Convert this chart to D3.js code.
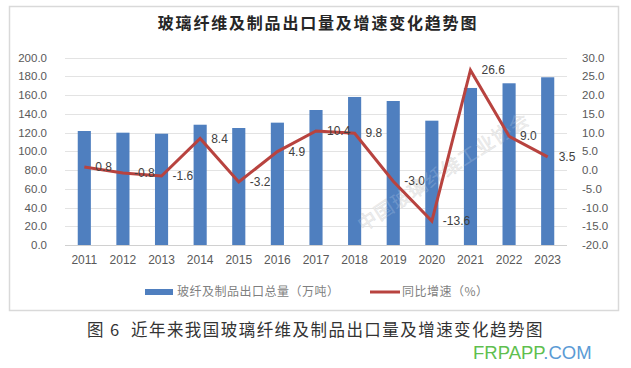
<!DOCTYPE html>
<html>
<head>
<meta charset="utf-8">
<script src="https://cdn.jsdelivr.net/npm/d3@7"></script>
<style>
	body { margin: 0; background: #fff; }
	svg { display: block; }
</style>
</head>
<body>
<div id="chart"></div>
<script>
// --- data ---
var years = ["2011", "2012", "2013", "2014", "2015", "2016", "2017", "2018", "2019", "2020", "2021", "2022", "2023"];
var exportVolume = [121.6, 119.8, 118.7, 128.3, 124.8, 130.5, 144.0, 157.9, 153.6, 132.6, 167.5, 172.5, 178.9];
var growthRate = [0.8, -0.8, -1.6, 8.4, -3.2, 4.9, 10.4, 9.8, -3.0, -13.6, 26.6, 9.0, 3.5];
var leftTicks = [0, 20, 40, 60, 80, 100, 120, 140, 160, 180, 200];
var rightTicks = [-20, -15, -10, -5, 0, 5, 10, 15, 20, 25, 30];
var barName = "玻纤及制品出口总量（万吨）";
var lineName = "同比增速（%）";
var title = "玻璃纤维及制品出口量及增速变化趋势图";
var caption = "图 6  近年来我国玻璃纤维及制品出口量及增速变化趋势图";

var width = 631, height = 368;
var plot = { left: 65, right: 567, top: 57.5, bottom: 245 };
var numFont = "'Liberation Sans', Arial, sans-serif";
var cjkFont = "'Noto Sans CJK SC', sans-serif";
var barColor = "#4f7fbf", lineColor = "#b8433f", textGray = "#595959";

var svg = d3.select("#chart").append("svg")
	.attr("width", width)
	.attr("height", height);

// outer chart frame
svg.append("rect")
	.attr("x", 9.5).attr("y", 6.5)
	.attr("width", 609).attr("height", 304)
	.attr("fill", "#fff")
	.attr("stroke", "#d9d9d9")
	.attr("stroke-width", 1.5);

// --- scales ---
var x = d3.scaleBand().domain(years).range([plot.left, plot.right]).padding(0);
var yLeft = d3.scaleLinear().domain([0, 200]).range([plot.bottom, plot.top]);
var yRight = d3.scaleLinear().domain([-20, 30]).range([plot.bottom, plot.top]);
var barW = x.bandwidth() * 0.34;
function cx(d) { return x(d) + x.bandwidth() / 2; }

// --- gridlines ---
svg.append("g").selectAll("line")
	.data(leftTicks)
	.enter().append("line")
	.attr("x1", plot.left).attr("x2", plot.right)
	.attr("y1", function (d) { return Math.round(yLeft(d)) + 0.5; })
	.attr("y2", function (d) { return Math.round(yLeft(d)) + 0.5; })
	.attr("stroke", function (d) { return d === 0 ? "#d0d0d0" : "#e3e3e3"; })
	.attr("stroke-width", 1);

// --- axes (labels only, Excel style) ---
var leftAxis = svg.append("g")
	.attr("transform", "translate(" + (plot.left - 15) + ",0)")
	.call(d3.axisLeft(yLeft).tickValues(leftTicks).tickSize(0).tickFormat(d3.format(".1f")));
var rightAxis = svg.append("g")
	.attr("transform", "translate(" + (plot.right + 12) + ",0)")
	.call(d3.axisRight(yRight).tickValues(rightTicks).tickSize(0).tickFormat(d3.format(".1f")));
var bottomAxis = svg.append("g")
	.attr("transform", "translate(0," + plot.bottom + ")")
	.call(d3.axisBottom(x).tickSize(0).tickPadding(10));

[leftAxis, rightAxis, bottomAxis].forEach(function (ax) {
	ax.select(".domain").remove();
	ax.selectAll("text")
		.attr("fill", textGray)
		.style("font-family", numFont)
		.style("font-size", "11.5px");
});
// minus signs in Excel are plain hyphens
rightAxis.selectAll("text").text(function (d) { return d3.format(".1f")(d).replace("−", "-"); });
bottomAxis.selectAll("text").style("font-size", "12px");

// --- watermark behind marks ---
svg.append("text")
	.attr("transform", "translate(363,232) rotate(-33)")
	.attr("fill", "#ececec")
	.attr("stroke", "#dadada")
	.attr("stroke-width", 0.4)
	.style("font-family", cjkFont)
	.style("font-size", "19px")
	.style("letter-spacing", "1px")
	.text("中国玻璃纤维工业协会");

// --- bars ---
svg.append("g").selectAll("rect")
	.data(exportVolume)
	.enter().append("rect")
	.attr("x", function (d, i) { return cx(years[i]) - barW / 2; })
	.attr("y", function (d) { return yLeft(d); })
	.attr("width", barW)
	.attr("height", function (d) { return plot.bottom - yLeft(d); })
	.attr("fill", barColor);

// watermark over bars, faint
svg.append("text")
	.attr("transform", "translate(363,232) rotate(-33)")
	.attr("fill", "#ffffff")
	.attr("fill-opacity", 0.18)
	.style("font-family", cjkFont)
	.style("font-size", "19px")
	.style("letter-spacing", "1px")
	.text("中国玻璃纤维工业协会");

// --- growth line ---
var line = d3.line()
	.x(function (d, i) { return cx(years[i]); })
	.y(function (d) { return yRight(d); });

svg.append("path")
	.datum(growthRate)
	.attr("d", line)
	.attr("fill", "none")
	.attr("stroke", lineColor)
	.attr("stroke-width", 3)
	.attr("stroke-linejoin", "miter");

// data labels to the right of each point
svg.append("g").selectAll("text")
	.data(growthRate)
	.enter().append("text")
	.attr("x", function (d, i) { return cx(years[i]) + 11; })
	.attr("y", function (d) { return yRight(d); })
	.attr("dy", "0.35em")
	.attr("fill", "#404040")
	.style("font-family", numFont)
	.style("font-size", "12px")
	.text(function (d) { return d3.format(".1f")(d).replace("−", "-"); });

// --- title ---
svg.append("text")
	.attr("x", 318).attr("y", 29)
	.attr("text-anchor", "middle")
	.attr("fill", "#262626")
	.style("font-family", cjkFont)
	.style("font-weight", "bold")
	.style("font-size", "16px")
	.style("letter-spacing", "1.8px")
	.text(title);

// --- legend ---
var legend = svg.append("g").attr("transform", "translate(0,292)");
legend.append("rect")
	.attr("x", 145).attr("y", -3).attr("width", 28).attr("height", 6)
	.attr("fill", barColor);
legend.append("text")
	.attr("x", 177).attr("y", 0).attr("dy", "0.35em")
	.attr("fill", "#7f7f7f")
	.style("font-family", cjkFont)
	.style("font-size", "12px")
	.style("letter-spacing", "0.5px")
	.text(barName);
legend.append("line")
	.attr("x1", 370).attr("x2", 400).attr("y1", 0).attr("y2", 0)
	.attr("stroke", lineColor).attr("stroke-width", 3);
legend.append("text")
	.attr("x", 402).attr("y", 0).attr("dy", "0.35em")
	.attr("fill", "#7f7f7f")
	.style("font-family", cjkFont)
	.style("font-size", "12px")
	.style("letter-spacing", "0.5px")
	.text(lineName);

// --- figure caption ---
svg.append("text")
	.attr("x", 87).attr("y", 336)
	.attr("fill", "#333")
	.style("font-family", cjkFont)
	.style("font-size", "16.5px")
	.style("letter-spacing", "1.45px")
	.style("white-space", "pre")
	.attr("xml:space", "preserve")
	.text(caption);

// --- site watermark ---
var site = svg.append("text")
	.attr("x", 473).attr("y", 359)
	.style("font-family", numFont)
	.style("font-size", "18.5px");
site.append("tspan").attr("fill", "#5fbf4f").text("FRPAPP");
site.append("tspan").attr("fill", "#5b9bd5").text(".COM");
</script>
</body>
</html>
